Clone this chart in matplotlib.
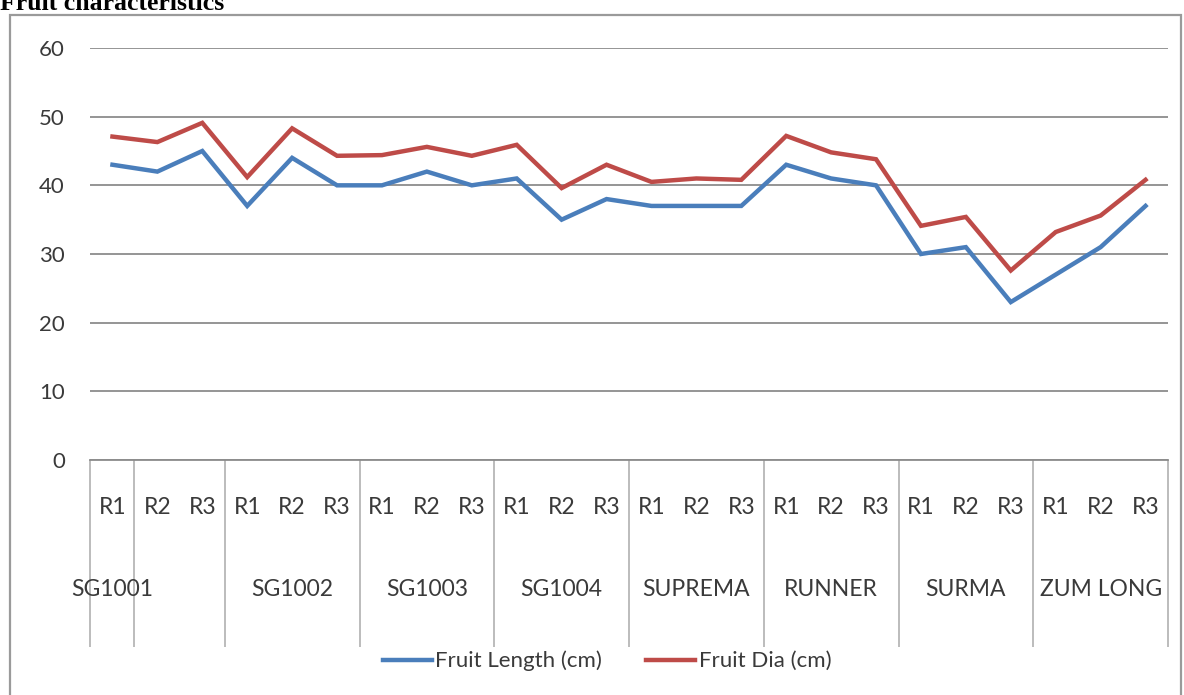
import matplotlib
matplotlib.use("Agg")
import matplotlib.pyplot as plt
from matplotlib.patches import Rectangle
import numpy as np


VARIETIES = ["SG1001", "SG1002", "SG1003", "SG1004", "SUPREMA", "RUNNER", "SURMA", "ZUM LONG"]
REPLICATES = ["R1", "R2", "R3"]

FRUIT_LENGTH = [43, 42, 45, 37, 44, 40, 40, 42, 40, 41, 35, 38,
                37, 37, 37, 43, 41, 40, 30, 31, 23, 27, 31, 37]
FRUIT_DIA = [47.1, 46.3, 49.1, 41.2, 48.3, 44.3, 44.4, 45.6, 44.3, 45.9, 39.6, 43.0,
             40.5, 41.0, 40.8, 47.2, 44.8, 43.8, 34.1, 35.4, 27.6, 33.2, 35.6, 40.8]

BLUE = "#4a7ebb"
RED = "#be4b48"
GRID = "#8c8c8c"
TEXT = "#3a3a3a"

W, H = 1184, 695

plt.rcParams["font.family"] = ["Lato", "DejaVu Sans"]

fig = plt.figure(figsize=(W / 100, H / 100), dpi=100)
fig.patch.set_facecolor("white")

# outer chart border (runs off the bottom of the image)
fig.patches.append(Rectangle((10 / W, -0.05), 1171 / W, 1.05 - 15 / H,
                             transform=fig.transFigure, fill=False,
                             edgecolor="#9a9a9a", lw=1.6))

fig.text(0.0, 1 - 10 / H, "Fruit characteristics", family="Liberation Serif",
         fontweight="bold", fontsize=18.5, va="baseline", ha="left", color="black")

ax = fig.add_axes([90 / W, 1 - 460 / H, 1078 / W, 412 / H])
x = np.arange(len(FRUIT_LENGTH))
ax.plot(x, FRUIT_LENGTH, color=BLUE, lw=3.2, label="Fruit Length (cm)", solid_joinstyle="miter")
ax.plot(x, FRUIT_DIA, color=RED, lw=3.2, label="Fruit Dia (cm)", solid_joinstyle="miter")

ax.set_xlim(-0.5, len(x) - 0.5)
ax.set_ylim(0, 60)
ax.set_yticks(range(0, 61, 10))
ax.yaxis.grid(True, color=GRID, lw=1.3)
ax.set_axisbelow(True)
for side in ["top", "right", "left"]:
    ax.spines[side].set_visible(False)
ax.spines["bottom"].set_color(GRID)
ax.spines["bottom"].set_linewidth(1.3)
ax.tick_params(axis="y", length=0, pad=18, labelsize=16, labelcolor=TEXT)
ax.tick_params(axis="x", length=0)
ax.set_xticks([])

# category axis: replicate row, variety row and separators
trans = ax.get_xaxis_transform()
sep_bottom = -(647 - 460) / 412
seps = [-0.5, 0.48] + [3 * i - 0.5 for i in range(1, len(VARIETIES) + 1)]
ax.vlines(seps, sep_bottom, 0, transform=trans, colors="#b0b0b0", lw=1.2, clip_on=False)

for i in x:
    ax.text(i, -(507 - 460) / 412, REPLICATES[i % 3], transform=trans, ha="center",
            va="center", fontsize=16.5, color=TEXT)

for g, name in enumerate(VARIETIES):
    cx = 0.0 if g == 0 else 3 * g + 1
    ax.text(cx, -(589 - 460) / 412, name, transform=trans, ha="center",
            va="center", fontsize=16.5, color=TEXT)

fig.legend(loc="center", bbox_to_anchor=(607 / W, 1 - 661 / H), ncol=2, frameon=False,
           fontsize=16, handlelength=2.2, handletextpad=0.15, columnspacing=2.0,
           labelcolor=TEXT)

fig.savefig("out.png", dpi=100, facecolor="white")
